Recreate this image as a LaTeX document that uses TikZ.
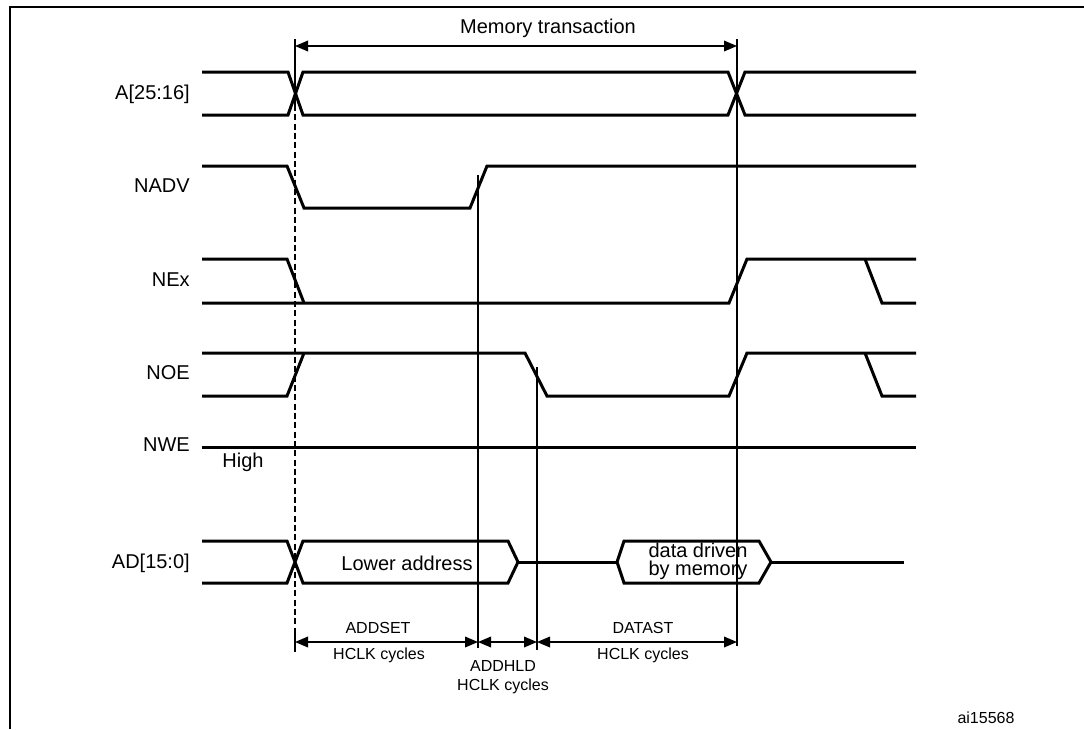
\documentclass[tikz,border=0pt]{standalone}
\usepackage{fontspec}
\setmainfont{Liberation Sans}
\usetikzlibrary{arrows.meta}

\begin{document}
\begin{tikzpicture}[
    x=0.75pt, y=-0.75pt,
    sig/.style={line width=2.25pt, line join=miter},
    guide/.style={line width=1pt},
    lbl/.style={anchor=east, inner sep=0pt, font=\fontsize{15}{18}\selectfont},
    txt/.style={inner sep=0pt, align=center, font=\fontsize{15}{13.5}\selectfont},
    note/.style={inner sep=0pt, align=center, font=\fontsize{12}{14}\selectfont},
    span/.style={{Triangle[length=9.75pt,width=8pt]}-{Triangle[length=9.75pt,width=8pt]}, line width=1pt}
  ]
    \useasboundingbox (0,0) rectangle (1084,729);
    \draw[line width=1.5pt] (10,729) -- (10,7) -- (1084,7);

    % signal names
    \node[lbl] (addr) at (190,94) {A[25:16]};
    \node[lbl] (nadv) at (190,186) {NADV};
    \node[lbl] (nex) at (190,280) {NEx};
    \node[lbl] (noe) at (190,373) {NOE};
    \node[lbl] (nwe) at (190,445) {NWE};
    \node[lbl] (ad) at (190,563) {AD[15:0]};

    % waveforms
    \draw[sig] (202,72) -- (288,72) -- (303,115) -- (728,115) -- (745,72) -- (916,72);
    \draw[sig] (202,115) -- (288,115) -- (303,72) -- (728,72) -- (745,115) -- (916,115);

    \draw[sig] (202,166) -- (287,166) -- (304,208) -- (470,208) -- (487,166) -- (916,166);

    \draw[sig] (202,259) -- (287,259) -- (304,303);
    \draw[sig] (202,303) -- (729,303) -- (747,259) -- (916,259);
    \draw[sig] (865,259) -- (882,303) -- (916,303);

    \draw[sig] (202,353) -- (525,353) -- (547,396) -- (729,396) -- (747,353) -- (916,353);
    \draw[sig] (202,396) -- (287,396) -- (304,353);
    \draw[sig] (865,353) -- (882,396) -- (916,396);

    \draw[sig] (202,447) -- (916,447);
    \node[txt] (high) at (243,462) {High};

    \draw[sig] (202,541) -- (287,541) -- (303,583) -- (508,583) -- (518,562) -- (508,541)
      -- (303,541) -- (287,583) -- (202,583);
    \draw[sig] (518,562) -- (617,562);
    \draw[sig] (617,562) -- (624,541) -- (759,541) -- (771,562) -- (759,583) -- (624,583) -- cycle;
    \draw[sig] (771,562) -- (904,562);
    \node[txt] (lower) at (407,563) {Lower address};
    \node[txt] (data) at (698,561) {data driven\\by memory};

    % timing marks
    \coordinate (m0) at (295,46);
    \coordinate (m1) at (737,46);
    \coordinate (t0) at (295,642);
    \coordinate (t1) at (478,642);
    \coordinate (t2) at (537,642);
    \coordinate (t3) at (737,642);

    \draw[guide] (295,39) -- (295,105);
    \draw[guide, dash pattern=on 4.5pt off 2.5pt] (295,105) -- (295,632);
    \draw[guide] (295,632) -- (295,652);
    \draw[guide] (737,39) -- (737,646);
    \draw[guide] (478,175) -- (478,648);
    \draw[guide] (537,367) -- (537,650);

    \draw[span] (m0) -- (m1);
    \node[txt] (memtr) at (548,28) {Memory transaction};

    \draw[span] (t0) -- (t1);
    \draw[span] (t1) -- (t2);
    \draw[span] (t2) -- (t3);

    \node[note] (addset) at (378,628) {ADDSET};
    \node[note] (addsetc) at (379,655) {HCLK cycles};
    \node[note] (addhld) at (503,677) {ADDHLD\\HCLK cycles};
    \node[note] (datast) at (643,628) {DATAST};
    \node[note] (datastc) at (643,655) {HCLK cycles};
    \node[note] (fig) at (986,718) {ai15568};
  \end{tikzpicture}
\end{document}
